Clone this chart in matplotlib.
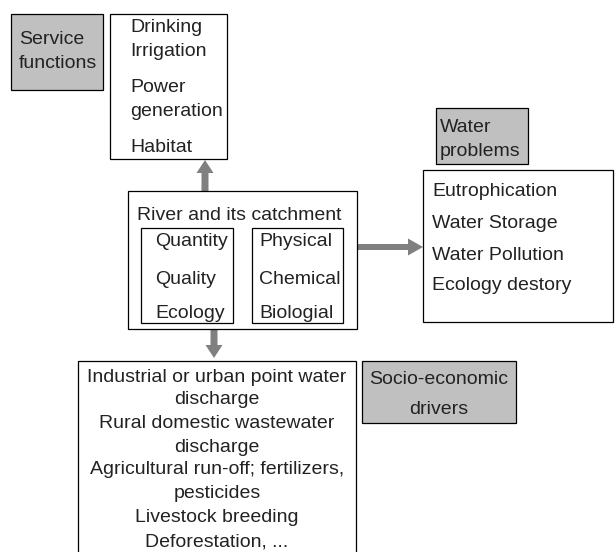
import matplotlib
matplotlib.use("Agg")
import matplotlib.pyplot as plt
from matplotlib.patches import Rectangle, FancyArrow

plt.rcParams['font.family'] = ['Liberation Sans', 'DejaVu Sans']

# texts of the diagram
service_title = ["Service", "functions"]
service_items = ["Drinking", "Irrigation", "Power", "generation", "Habitat"]
river_title = "River and its catchment"
river_left = ["Quantity", "Quality", "Ecology"]
river_right = ["Physical", "Chemical", "Biologial"]
problem_title = ["Water", "problems"]
problem_items = ["Eutrophication", "Water Storage", "Water Pollution", "Ecology destory"]
driver_title = ["Socio-economic", "drivers"]
driver_items = ["Industrial or urban point water", "discharge",
                "Rural domestic wastewater", "discharge",
                "Agricultural run-off; fertilizers,", "pesticides",
                "Livestock breeding", "Deforestation, ..."]

fig = plt.figure(figsize=(6.16, 5.52), dpi=100)
ax = fig.add_axes([0, 0, 1, 1])
ax.set_xlim(0, 616)
ax.set_ylim(552, 0)
ax.axis('off')

fs = 14
tc = '#222222'
gray = '#c0c0c0'
arrow_c = '#808080'
lw = 0.9
off = 6.5  # from middle of capitals to baseline

def box(x0, y0, x1, y1, fill='white'):
    ax.add_patch(Rectangle((x0, y0), x1 - x0, y1 - y0, facecolor=fill,
                           edgecolor='black', lw=lw, zorder=2))

def lines(x, ys, items, ha='left'):
    for y, t in zip(ys, items):
        ax.text(x, y + off, t, fontsize=fs, color=tc, ha=ha, va='baseline', zorder=3)

# service functions
box(11, 14, 103, 90, gray)
lines(19, [37, 61], service_title)
box(110, 14, 227, 159)
lines(130, [26, 49, 86, 109, 145], service_items)

# river box
box(128, 191, 357, 329)
lines(137, [213], [river_title])
box(141, 228, 233, 323)
lines(155, [240, 277, 312], river_left)
box(252, 228, 343, 323)
lines(259, [240, 277, 312], river_right)

# water problems
box(436, 108, 528, 164, gray)
lines(440, [125, 150], problem_title)
box(423, 170, 613, 322)
lines(432, [190, 222, 253, 284], problem_items)

# drivers
box(78, 361, 356, 560)
lines(217, [375, 398, 422, 445, 468, 492, 516, 540], driver_items, ha='center')
box(362, 361, 516, 423, gray)
lines(439, [378, 407], driver_title, ha='center')

# arrows
ax.add_patch(FancyArrow(205, 191, 0, -31, width=7, head_width=17, head_length=13,
                        length_includes_head=True, color=arrow_c, lw=0, zorder=1))
ax.add_patch(FancyArrow(214, 329, 0, 29, width=7, head_width=17, head_length=13,
                        length_includes_head=True, color=arrow_c, lw=0, zorder=1))
ax.add_patch(FancyArrow(357, 247, 66, 0, width=6, head_width=17, head_length=15,
                        length_includes_head=True, color=arrow_c, lw=0, zorder=1))

fig.savefig("out.png", dpi=100)
